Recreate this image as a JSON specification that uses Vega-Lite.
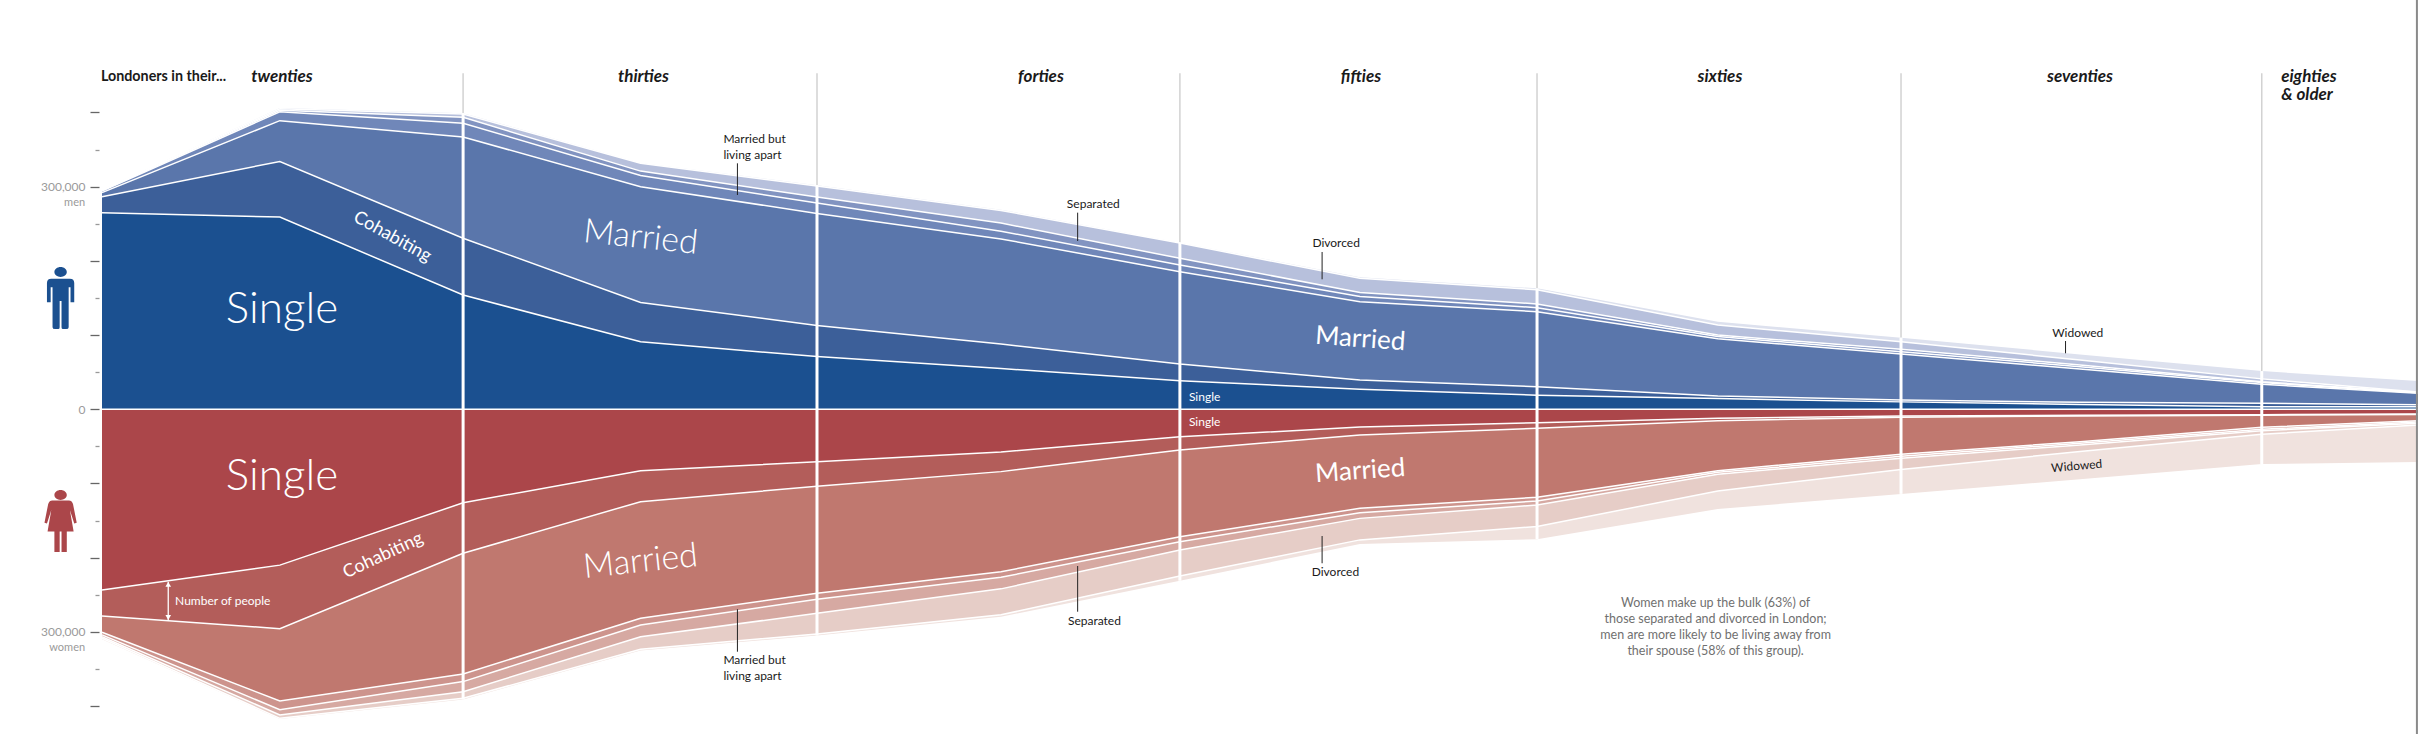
{
  "$schema": "https://vega.github.io/schema/vega-lite/v6.json",
  "description": "Londoners by age and marital status, men above the line and women below.",
  "autosize": {"type": "none"},
  "padding": {"left": 102, "top": 0, "right": 0, "bottom": 0},
  "width": 2316,
  "height": 734,
  "background": "white",
  "view": {"stroke": null},
  "config": {"text": {"font": "Lato"}, "axis": {"labelFont": "Lato"}},
  "encoding": {
    "x": {"field": "age", "type": "quantitative", "axis": null, "scale": {"domain": [20, 84.33], "nice": false}},
    "y": {
      "field": "people",
      "type": "quantitative",
      "scale": {"domain": [-437600, 551600], "nice": false, "zero": false},
      "axis": {
        "title": null,
        "domain": false,
        "grid": false,
        "offset": 3,
        "values": [-400000, -350000, -300000, -250000, -200000, -150000, -100000, -50000, 0, 50000, 100000, 150000, 200000, 250000, 300000, 350000, 400000],
        "labelExpr": "datum.value === 0 || abs(datum.value) === 300000 ? format(abs(datum.value), ',') : ''",
        "labelColor": "#9a9a9a",
        "labelFontSize": 12,
        "labelPadding": 5,
        "tickWidth": 1.3,
        "tickSize": {"condition": {"test": "datum.value % 100000 === 0", "value": 9}, "value": 4},
        "tickColor": {"condition": {"test": "datum.value % 100000 === 0", "value": "#666666"}, "value": "#999999"}
      }
    }
  },
  "datasets": {
    "bands": [
      {"age":20,"series":"Men widowed","people":296000},{"age":24.94,"series":"Men widowed","people":406000},{"age":30.03,"series":"Men widowed","people":399000},{"age":34.96,"series":"Men widowed","people":332000},{"age":39.86,"series":"Men widowed","people":302000},{"age":44.97,"series":"Men widowed","people":269000},{"age":49.94,"series":"Men widowed","people":224500},{"age":54.94,"series":"Men widowed","people":178000},{"age":59.86,"series":"Men widowed","people":163000},{"age":64.88,"series":"Men widowed","people":118000},{"age":69.97,"series":"Men widowed","people":96500},{"age":74.94,"series":"Men widowed","people":74000},{"age":79.99,"series":"Men widowed","people":51500},{"age":84.33,"series":"Men widowed","people":38000},
      {"age":20,"series":"Men divorced","people":295500},{"age":24.94,"series":"Men divorced","people":405000},{"age":30.03,"series":"Men divorced","people":398000},{"age":34.96,"series":"Men divorced","people":331500},{"age":39.86,"series":"Men divorced","people":301000},{"age":44.97,"series":"Men divorced","people":268000},{"age":49.94,"series":"Men divorced","people":224000},{"age":54.94,"series":"Men divorced","people":176500},{"age":59.86,"series":"Men divorced","people":161000},{"age":64.88,"series":"Men divorced","people":113500},{"age":69.97,"series":"Men divorced","people":91000},{"age":74.94,"series":"Men divorced","people":66400},{"age":79.99,"series":"Men divorced","people":41000},{"age":84.33,"series":"Men divorced","people":23300},
      {"age":20,"series":"Men separated","people":295000},{"age":24.94,"series":"Men separated","people":403000},{"age":30.03,"series":"Men separated","people":393500},{"age":34.96,"series":"Men separated","people":321000},{"age":39.86,"series":"Men separated","people":286000},{"age":44.97,"series":"Men separated","people":251000},{"age":49.94,"series":"Men separated","people":203500},{"age":54.94,"series":"Men separated","people":157500},{"age":59.86,"series":"Men separated","people":142000},{"age":64.88,"series":"Men separated","people":100000},{"age":69.97,"series":"Men separated","people":81000},{"age":74.94,"series":"Men separated","people":59700},{"age":79.99,"series":"Men separated","people":37000},{"age":84.33,"series":"Men separated","people":23000},
      {"age":20,"series":"Men living apart","people":294000},{"age":24.94,"series":"Men living apart","people":401000},{"age":30.03,"series":"Men living apart","people":385500},{"age":34.96,"series":"Men living apart","people":315000},{"age":39.86,"series":"Men living apart","people":278000},{"age":44.97,"series":"Men living apart","people":240000},{"age":49.94,"series":"Men living apart","people":194500},{"age":54.94,"series":"Men living apart","people":152000},{"age":59.86,"series":"Men living apart","people":137000},{"age":64.88,"series":"Men living apart","people":98000},{"age":69.97,"series":"Men living apart","people":77600},{"age":74.94,"series":"Men living apart","people":57400},{"age":79.99,"series":"Men living apart","people":36000},{"age":84.33,"series":"Men living apart","people":22400},
      {"age":20,"series":"Men married","people":292000},{"age":24.94,"series":"Men married","people":389000},{"age":30.03,"series":"Men married","people":367000},{"age":34.96,"series":"Men married","people":300000},{"age":39.86,"series":"Men married","people":264000},{"age":44.97,"series":"Men married","people":229500},{"age":49.94,"series":"Men married","people":185500},{"age":54.94,"series":"Men married","people":145000},{"age":59.86,"series":"Men married","people":131500},{"age":64.88,"series":"Men married","people":95000},{"age":69.97,"series":"Men married","people":74500},{"age":74.94,"series":"Men married","people":54300},{"age":79.99,"series":"Men married","people":33700},{"age":84.33,"series":"Men married","people":21500},
      {"age":20,"series":"Men cohabiting","people":286500},{"age":24.94,"series":"Men cohabiting","people":334000},{"age":30.03,"series":"Men cohabiting","people":230500},{"age":34.96,"series":"Men cohabiting","people":144000},{"age":39.86,"series":"Men cohabiting","people":113000},{"age":44.97,"series":"Men cohabiting","people":88000},{"age":49.94,"series":"Men cohabiting","people":61000},{"age":54.94,"series":"Men cohabiting","people":39500},{"age":59.86,"series":"Men cohabiting","people":30500},{"age":64.88,"series":"Men cohabiting","people":18000},{"age":69.97,"series":"Men cohabiting","people":12500},{"age":74.94,"series":"Men cohabiting","people":9500},{"age":79.99,"series":"Men cohabiting","people":8000},{"age":84.33,"series":"Men cohabiting","people":6000},
      {"age":20,"series":"Men single","people":265000},{"age":24.94,"series":"Men single","people":259000},{"age":30.03,"series":"Men single","people":154000},{"age":34.96,"series":"Men single","people":91000},{"age":39.86,"series":"Men single","people":71000},{"age":44.97,"series":"Men single","people":55000},{"age":49.94,"series":"Men single","people":38500},{"age":54.94,"series":"Men single","people":27000},{"age":59.86,"series":"Men single","people":19000},{"age":64.88,"series":"Men single","people":14500},{"age":69.97,"series":"Men single","people":10000},{"age":74.94,"series":"Men single","people":6500},{"age":79.99,"series":"Men single","people":3500},{"age":84.33,"series":"Men single","people":3500},
      {"age":20,"series":"Women widowed","people":-310000},{"age":24.94,"series":"Women widowed","people":-417400},{"age":30.03,"series":"Women widowed","people":-391000},{"age":34.96,"series":"Women widowed","people":-325000},{"age":39.86,"series":"Women widowed","people":-305000},{"age":44.97,"series":"Women widowed","people":-279500},{"age":49.94,"series":"Women widowed","people":-231000},{"age":54.94,"series":"Women widowed","people":-181500},{"age":59.86,"series":"Women widowed","people":-175000},{"age":64.88,"series":"Women widowed","people":-134400},{"age":69.97,"series":"Women widowed","people":-114000},{"age":74.94,"series":"Women widowed","people":-94300},{"age":79.99,"series":"Women widowed","people":-73700},{"age":84.33,"series":"Women widowed","people":-71000},
      {"age":20,"series":"Women divorced","people":-308600},{"age":24.94,"series":"Women divorced","people":-416500},{"age":30.03,"series":"Women divorced","people":-389500},{"age":34.96,"series":"Women divorced","people":-323500},{"age":39.86,"series":"Women divorced","people":-302800},{"age":44.97,"series":"Women divorced","people":-277000},{"age":49.94,"series":"Women divorced","people":-224700},{"age":54.94,"series":"Women divorced","people":-176000},{"age":59.86,"series":"Women divorced","people":-158000},{"age":64.88,"series":"Women divorced","people":-110000},{"age":69.97,"series":"Women divorced","people":-81000},{"age":74.94,"series":"Women divorced","people":-57000},{"age":79.99,"series":"Women divorced","people":-33700},{"age":84.33,"series":"Women divorced","people":-21000},
      {"age":20,"series":"Women separated","people":-306500},{"age":24.94,"series":"Women separated","people":-412000},{"age":30.03,"series":"Women separated","people":-380600},{"age":34.96,"series":"Women separated","people":-306500},{"age":39.86,"series":"Women separated","people":-275000},{"age":44.97,"series":"Women separated","people":-242000},{"age":49.94,"series":"Women separated","people":-189600},{"age":54.94,"series":"Women separated","people":-147000},{"age":59.86,"series":"Women separated","people":-129000},{"age":64.88,"series":"Women separated","people":-87600},{"age":69.97,"series":"Women separated","people":-66000},{"age":74.94,"series":"Women separated","people":-48000},{"age":79.99,"series":"Women separated","people":-28800},{"age":84.33,"series":"Women separated","people":-18900},
      {"age":20,"series":"Women living apart","people":-304000},{"age":24.94,"series":"Women living apart","people":-405000},{"age":30.03,"series":"Women living apart","people":-367000},{"age":34.96,"series":"Women living apart","people":-290700},{"age":39.86,"series":"Women living apart","people":-256000},{"age":44.97,"series":"Women living apart","people":-226400},{"age":49.94,"series":"Women living apart","people":-178400},{"age":54.94,"series":"Women living apart","people":-139400},{"age":59.86,"series":"Women living apart","people":-123600},{"age":64.88,"series":"Women living apart","people":-85000},{"age":69.97,"series":"Women living apart","people":-63300},{"age":74.94,"series":"Women living apart","people":-45800},{"age":79.99,"series":"Women living apart","people":-27000},{"age":84.33,"series":"Women living apart","people":-17000},
      {"age":20,"series":"Women married","people":-300500},{"age":24.94,"series":"Women married","people":-393000},{"age":30.03,"series":"Women married","people":-356700},{"age":34.96,"series":"Women married","people":-281700},{"age":39.86,"series":"Women married","people":-248000},{"age":44.97,"series":"Women married","people":-219000},{"age":49.94,"series":"Women married","people":-171700},{"age":54.94,"series":"Women married","people":-133400},{"age":59.86,"series":"Women married","people":-118600},{"age":64.88,"series":"Women married","people":-82700},{"age":69.97,"series":"Women married","people":-60600},{"age":74.94,"series":"Women married","people":-43700},{"age":79.99,"series":"Women married","people":-24300},{"age":84.33,"series":"Women married","people":-15400},
      {"age":20,"series":"Women cohabiting","people":-278600},{"age":24.94,"series":"Women cohabiting","people":-295700},{"age":30.03,"series":"Women cohabiting","people":-194000},{"age":34.96,"series":"Women cohabiting","people":-124500},{"age":39.86,"series":"Women cohabiting","people":-103800},{"age":44.97,"series":"Women cohabiting","people":-84000},{"age":49.94,"series":"Women cohabiting","people":-55000},{"age":54.94,"series":"Women cohabiting","people":-34600},{"age":59.86,"series":"Women cohabiting","people":-25600},{"age":64.88,"series":"Women cohabiting","people":-15400},{"age":69.97,"series":"Women cohabiting","people":-10800},{"age":74.94,"series":"Women cohabiting","people":-9000},{"age":79.99,"series":"Women cohabiting","people":-8000},{"age":84.33,"series":"Women cohabiting","people":-7000},
      {"age":20,"series":"Women single","people":-243500},{"age":24.94,"series":"Women single","people":-210000},{"age":30.03,"series":"Women single","people":-126000},{"age":34.96,"series":"Women single","people":-82700},{"age":39.86,"series":"Women single","people":-70600},{"age":44.97,"series":"Women single","people":-57500},{"age":49.94,"series":"Women single","people":-37000},{"age":54.94,"series":"Women single","people":-24000},{"age":59.86,"series":"Women single","people":-18000},{"age":64.88,"series":"Women single","people":-12000},{"age":69.97,"series":"Women single","people":-9000},{"age":74.94,"series":"Women single","people":-8000},{"age":79.99,"series":"Women single","people":-7300},{"age":84.33,"series":"Women single","people":-6300}
    ],
    "decades": [
      {"age":30.03,"people":399000,"end":-391000,"top":453000},
      {"age":39.86,"people":302000,"end":-305000,"top":453000},
      {"age":49.94,"people":224500,"end":-231000,"top":453000},
      {"age":59.86,"people":163000,"end":-175000,"top":453000},
      {"age":69.97,"people":96500,"end":-114000,"top":453000},
      {"age":79.99,"people":51500,"end":-73700,"top":453000}
    ],
    "leaders": [
      {"age":37.65,"people":331500,"end":288800},
      {"age":47.1,"people":265000,"end":226800},
      {"age":53.89,"people":212000,"end":175200},
      {"age":74.54,"people":92000,"end":75500},
      {"age":37.65,"people":-269500,"end":-326700},
      {"age":47.1,"people":-211200,"end":-272800},
      {"age":53.89,"people":-170800,"end":-207500}
    ],
    "notes": [
      {"age":37.26,"people":364300,"label":"Married but"},
      {"age":37.26,"people":342700,"label":"living apart"},
      {"age":46.8,"people":277100,"label":"Separated"},
      {"age":53.62,"people":224500,"label":"Divorced"},
      {"age":74.17,"people":103200,"label":"Widowed"},
      {"age":37.26,"people":-337500,"label":"Married but"},
      {"age":37.26,"people":-359400,"label":"living apart"},
      {"age":46.83,"people":-284900,"label":"Separated"},
      {"age":53.6,"people":-218900,"label":"Divorced"}
    ],
    "headers": [
      {"age":25,"people":447800,"label":"twenties"},
      {"age":35.04,"people":447800,"label":"thirties"},
      {"age":46.08,"people":447800,"label":"forties"},
      {"age":54.97,"people":447800,"label":"fifties"},
      {"age":64.94,"people":447800,"label":"sixties"},
      {"age":74.94,"people":447800,"label":"seventies"},
      {"age":81.3,"people":447800,"label":"eighties"},
      {"age":81.25,"people":423600,"label":"& older"}
    ],
    "comment": [
      {"age":64.82,"people":-260600,"label":"Women make up the bulk (63%) of"},
      {"age":64.82,"people":-282600,"label":"those separated and divorced in London;"},
      {"age":64.82,"people":-304200,"label":"men are more likely to be living away from"},
      {"age":64.82,"people":-325700,"label":"their spouse (58% of this group)."}
    ]
  },
  "layer": [
    {
      "data": {"name": "decades"},
      "mark": {"type": "rule", "color": "#d2d2d2", "strokeWidth": 1.5},
      "encoding": {"y": {"field": "top", "type": "quantitative"}, "y2": {"field": "people"}}
    },
    {
      "data": {"name": "bands"},
      "mark": {"type": "area", "opacity": 1},
      "encoding": {
        "y": {"field": "people", "type": "quantitative", "stack": null},
        "color": {
          "field": "series",
          "type": "nominal",
          "legend": null,
          "scale": {
            "domain": ["Men single", "Men cohabiting", "Men married", "Men living apart", "Men separated", "Men divorced", "Men widowed", "Women single", "Women cohabiting", "Women married", "Women living apart", "Women separated", "Women divorced", "Women widowed"],
            "range": ["#1b5090", "#3c5f99", "#5a76ab", "#7087b9", "#8294c1", "#b7c0dc", "#dde1ee", "#ab464a", "#b35d5a", "#c0786f", "#cd948d", "#d6a9a2", "#e6cdc7", "#f0e2de"]
          }
        }
      }
    },
    {
      "data": {"name": "bands"},
      "transform": [{"filter": "datum.series !== 'Men widowed' && datum.series !== 'Women widowed'"}],
      "mark": {"type": "line", "color": "white", "strokeWidth": 1.5},
      "encoding": {"detail": {"field": "series"}}
    },
    {
      "data": {"values": [{"people": 0, "age": 20}, {"people": 0, "age": 84.33}]},
      "mark": {"type": "line", "color": "white", "strokeWidth": 1.5},
      "encoding": {}
    },
    {
      "data": {"name": "decades"},
      "mark": {"type": "rule", "color": "white", "strokeWidth": 3},
      "encoding": {"y2": {"field": "end"}}
    },
    {
      "data": {"values": [{"age": 84.3, "people": 551600, "end": -437600}]},
      "mark": {"type": "rule", "color": "#8a8a8a", "strokeWidth": 2},
      "encoding": {"y2": {"field": "end"}}
    },
    {
      "data": {"name": "leaders"},
      "mark": {"type": "rule", "color": "#222222", "strokeWidth": 1},
      "encoding": {"y2": {"field": "end"}}
    },
    {
      "data": {"values": [{"age": 21.84, "people": -232300, "end": -284000}]},
      "mark": {"type": "rule", "color": "white", "strokeWidth": 1.3},
      "encoding": {"y2": {"field": "end"}}
    },
    {
      "data": {"values": [{"age": 21.84, "people": -236000}]},
      "mark": {"type": "point", "shape": "triangle-up", "filled": true, "size": 32, "color": "white", "opacity": 1}
    },
    {
      "data": {"values": [{"age": 21.84, "people": -280500}]},
      "mark": {"type": "point", "shape": "triangle-down", "filled": true, "size": 32, "color": "white", "opacity": 1}
    },
    {
      "data": {"values": [{"age": 18.85, "people": 150000, "sex": "men"}]},
      "mark": {
        "type": "point", "filled": true, "size": 3844, "color": "#1b5090", "opacity": 1, "strokeWidth": 0,
        "shape": "M-0.2 -0.84A0.2 0.16 0 1 1 0.2 -0.84A0.2 0.16 0 1 1 -0.2 -0.84ZM-0.3 -0.62L0.3 -0.62Q0.44 -0.62 0.44 -0.48L0.44 0.14L0.32 0.14L0.32 -0.35L0.26 -0.35L0.26 0.94Q0.26 1 0.18 1L0.08 1Q0.03 1 0.03 0.94L0.03 0.1L-0.03 0.1L-0.03 0.94Q-0.03 1 -0.08 1L-0.18 1Q-0.26 1 -0.26 0.94L-0.26 -0.35L-0.32 -0.35L-0.32 0.14L-0.44 0.14L-0.44 -0.48Q-0.44 -0.62 -0.3 -0.62Z"
      }
    },
    {
      "data": {"values": [{"age": 18.85, "people": -150500, "sex": "women"}]},
      "mark": {
        "type": "point", "filled": true, "size": 3844, "color": "#ab464a", "opacity": 1, "strokeWidth": 0,
        "shape": "M-0.2 -0.84A0.2 0.16 0 1 1 0.2 -0.84A0.2 0.16 0 1 1 -0.2 -0.84ZM-0.27 -0.66L0.27 -0.66Q0.36 -0.66 0.4 -0.55L0.52 0.06L0.44 0.08L0.3 -0.35L0.42 0.34L0.2 0.34L0.2 1L0.03 1L0.03 0.34L-0.03 0.34L-0.03 1L-0.2 1L-0.2 0.34L-0.42 0.34L-0.3 -0.35L-0.44 0.08L-0.52 0.06L-0.4 -0.55Q-0.36 -0.66 -0.27 -0.66Z"
      }
    },
    {
      "data": {"name": "headers"},
      "mark": {"type": "text", "fontWeight": "bold", "fontStyle": "italic", "fontSize": 17, "color": "#1a1a1a"},
      "encoding": {"text": {"field": "label"}}
    },
    {
      "data": {"values": [{"age": 19.97, "people": 447800, "label": "Londoners in their..."}]},
      "mark": {"type": "text", "align": "left", "fontWeight": "bold", "fontSize": 14.3, "color": "#1a1a1a"},
      "encoding": {"text": {"field": "label"}}
    },
    {
      "data": {"name": "notes"},
      "mark": {"type": "text", "align": "left", "fontSize": 12, "color": "#1a1a1a"},
      "encoding": {"text": {"field": "label"}}
    },
    {
      "data": {"values": [{"age": 74.85, "people": -76400, "label": "Widowed"}]},
      "mark": {"type": "text", "angle": -5, "fontSize": 12, "color": "#1a1a1a"},
      "encoding": {"text": {"field": "label"}}
    },
    {
      "data": {"name": "comment"},
      "mark": {"type": "text", "fontSize": 12.5, "color": "#707070"},
      "encoding": {"text": {"field": "label"}}
    },
    {
      "data": {"values": [{"age": 19.53, "people": 278000, "label": "men"}, {"age": 19.53, "people": -321700, "label": "women"}]},
      "mark": {"type": "text", "align": "right", "fontSize": 11, "color": "#9a9a9a"},
      "encoding": {"text": {"field": "label"}}
    },
    {
      "data": {"values": [{"age": 25, "people": 133800, "label": "Single"}, {"age": 25, "people": -91200, "label": "Single"}]},
      "mark": {"type": "text", "fontSize": 44, "fontWeight": 300, "color": "white"},
      "encoding": {"text": {"field": "label"}}
    },
    {
      "data": {"values": [{"age": 34.96, "people": 230900, "label": "Married"}]},
      "mark": {"type": "text", "fontSize": 34, "fontWeight": 300, "angle": 6, "color": "white"},
      "encoding": {"text": {"field": "label"}}
    },
    {
      "data": {"values": [{"age": 34.96, "people": -205800, "label": "Married"}]},
      "mark": {"type": "text", "fontSize": 34, "fontWeight": 300, "angle": -6, "color": "white"},
      "encoding": {"text": {"field": "label"}}
    },
    {
      "data": {"values": [{"age": 54.95, "people": 94700, "label": "Married"}]},
      "mark": {"type": "text", "fontSize": 26, "angle": 4, "color": "white"},
      "encoding": {"text": {"field": "label"}}
    },
    {
      "data": {"values": [{"age": 54.95, "people": -83200, "label": "Married"}]},
      "mark": {"type": "text", "fontSize": 26, "angle": -4, "color": "white"},
      "encoding": {"text": {"field": "label"}}
    },
    {
      "data": {"values": [{"age": 28.06, "people": 232200, "label": "Cohabiting"}]},
      "mark": {"type": "text", "fontSize": 18, "angle": 29, "color": "white"},
      "encoding": {"text": {"field": "label"}}
    },
    {
      "data": {"values": [{"age": 27.81, "people": -197300, "label": "Cohabiting"}]},
      "mark": {"type": "text", "fontSize": 18, "angle": -25, "color": "white"},
      "encoding": {"text": {"field": "label"}}
    },
    {
      "data": {"values": [{"age": 50.19, "people": 17000, "label": "Single"}, {"age": 50.19, "people": -17100, "label": "Single"}, {"age": 22.03, "people": -258000, "label": "Number of people"}]},
      "mark": {"type": "text", "align": "left", "fontSize": 12, "color": "white"},
      "encoding": {"text": {"field": "label"}}
    }
  ]
}
